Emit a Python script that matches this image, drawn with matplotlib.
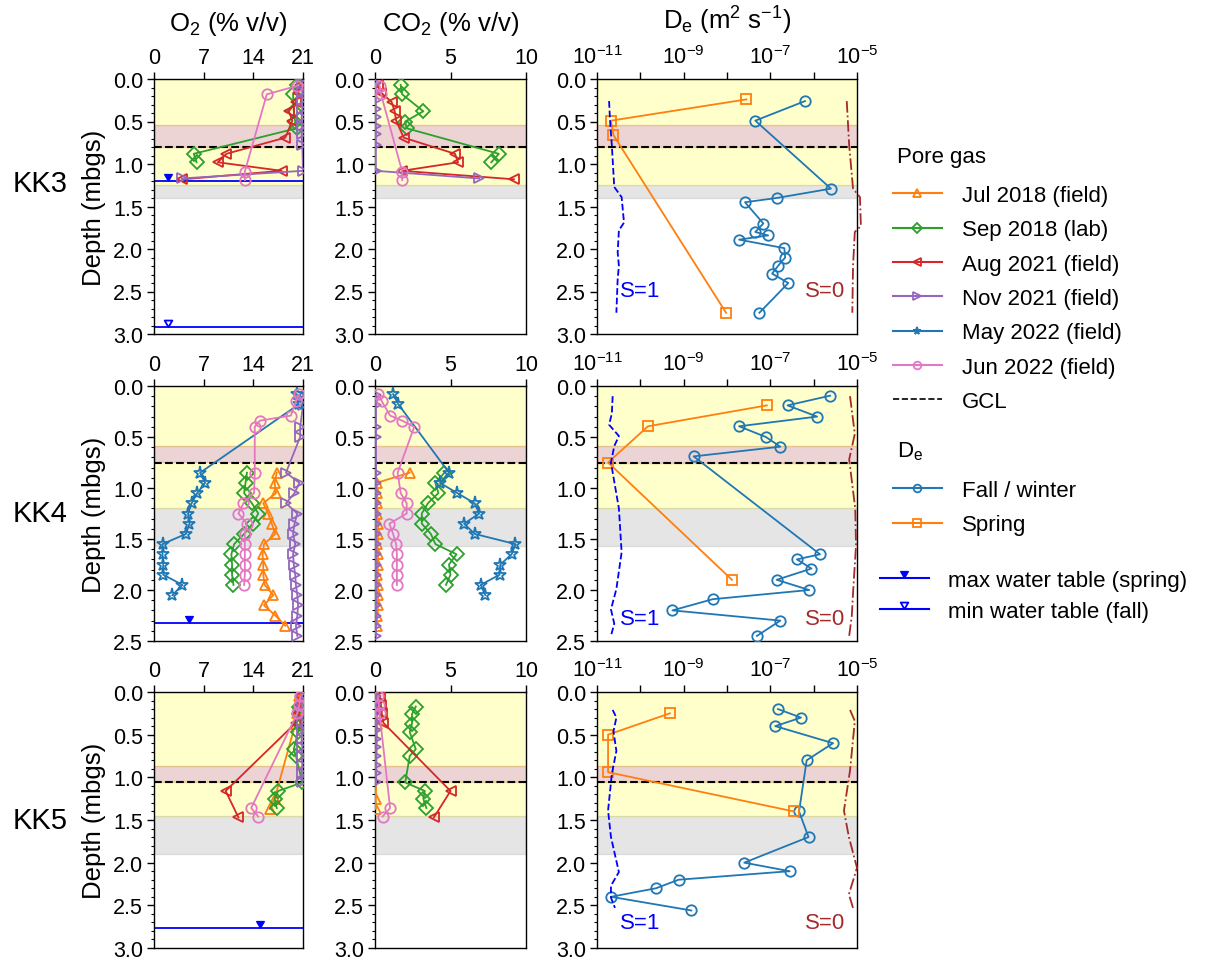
import matplotlib.pyplot as plt
from matplotlib.lines import Line2D
from matplotlib.path import Path
from matplotlib.ticker import FixedLocator, MultipleLocator, NullFormatter

plt.rcParams['font.family'] = ['Liberation Sans', 'DejaVu Sans']
plt.rcParams['mathtext.fontset'] = 'custom'
plt.rcParams['mathtext.rm'] = 'Liberation Sans'
plt.rcParams['mathtext.it'] = 'Liberation Sans:italic'
plt.rcParams['mathtext.bf'] = 'Liberation Sans:bold'

# ---------------- pore gas profiles (depth m, O2 %, CO2 %) ----------------
# KK3
kk3_sep18_depth = [0.07, 0.18, 0.38, 0.50, 0.58, 0.88, 0.98]
kk3_sep18_o2 = [20.2, 19.6, 19.7, 19.9, 20.1, 5.6, 6.0]
kk3_sep18_co2 = [1.7, 1.8, 3.2, 2.0, 2.1, 8.2, 7.7]

kk3_aug21_depth = [0.07, 0.16, 0.27, 0.38, 0.49, 0.69, 0.88, 0.98, 1.08, 1.18]
kk3_aug21_o2 = [20.6, 20.3, 20.0, 19.0, 19.5, 18.5, 10.2, 9.0, 18.0, 4.0]
kk3_aug21_co2 = [0.2, 0.4, 1.1, 1.3, 1.4, 1.9, 5.3, 5.5, 1.8, 9.2]

kk3_nov21_depth = [0.05, 0.15, 0.25, 0.35, 0.45, 0.55, 0.65, 0.78, 1.08, 1.17]
kk3_nov21_o2 = [20.8, 20.9, 20.8, 20.9, 20.8, 20.9, 20.8, 20.9, 21.0, 3.9]
kk3_nov21_co2 = [0.05, 0.05, 0.05, 0.05, 0.05, 0.05, 0.05, 0.05, 0.05, 6.9]

kk3_jun22_depth = [0.08, 0.18, 1.09, 1.19]
kk3_jun22_o2 = [20.2, 15.9, 12.8, 12.8]
kk3_jun22_co2 = [0.3, 0.4, 1.8, 1.8]

# KK4
kk4_jul18_depth = [0.85, 0.95, 1.05, 1.15, 1.25, 1.35, 1.45, 1.55, 1.65, 1.75,
                   1.85, 1.95, 2.05, 2.15, 2.25, 2.35]
kk4_jul18_o2 = [17.3, 17.0, 17.2, 15.4, 16.1, 16.6, 17.1, 15.5, 15.3, 15.4,
                15.4, 15.6, 16.8, 15.5, 17.1, 18.5]
kk4_jul18_co2 = [2.3, 0.1, 0.15, 0.15, 0.15, 0.2, 0.2, 0.15, 0.2, 0.2,
                 0.15, 0.2, 0.2, 0.2, 0.15, 0.1]

kk4_sep18_depth = [0.85, 0.95, 1.05, 1.15, 1.25, 1.35, 1.45, 1.55, 1.65, 1.75, 1.85, 1.95]
kk4_sep18_o2 = [13.1, 12.9, 12.7, 13.8, 14.7, 13.9, 12.7, 11.3, 10.9, 11.0, 11.0, 11.2]
kk4_sep18_co2 = [4.6, 4.0, 4.2, 3.5, 3.1, 3.1, 3.7, 4.0, 5.4, 4.9, 5.0, 4.7]

kk4_nov21_depth = [0.09, 0.19, 0.40, 0.50, 0.85, 0.95, 1.05, 1.15, 1.25, 1.35, 1.45,
                   1.55, 1.65, 1.75, 1.85, 1.95, 2.05, 2.15, 2.25, 2.35, 2.45]
kk4_nov21_o2 = [20.6, 21.0, 20.6, 20.6, 18.6, 20.5, 19.8, 18.6, 20.2, 19.8, 19.6,
                19.9, 19.6, 19.7, 19.9, 20.0, 20.2, 20.3, 20.2, 20.0, 20.2]
kk4_nov21_co2 = [0.05, 0.05, 0.05, 0.05, 0.05, 0.05, 0.05, 0.05, 0.05, 0.05, 0.05,
                 0.05, 0.05, 0.05, 0.05, 0.05, 0.05, 0.05, 0.05, 0.05, 0.05]

kk4_may22_depth = [0.08, 0.18, 0.85, 0.95, 1.05, 1.15, 1.25, 1.35, 1.45, 1.55,
                   1.65, 1.75, 1.85, 1.95, 2.05]
kk4_may22_o2 = [20.1, 20.4, 6.5, 7.2, 6.1, 5.3, 4.8, 5.0, 4.5, 1.2, 1.2, 1.3, 1.3, 4.0, 2.6]
kk4_may22_co2 = [1.2, 1.55, 4.9, 4.3, 5.45, 6.6, 6.9, 5.9, 6.6, 9.3, 9.05, 8.3, 8.25, 7.0, 7.3]

kk4_jun22_depth = [0.08, 0.15, 0.29, 0.34, 0.40, 0.85, 1.05, 1.15, 1.25, 1.35,
                   1.45, 1.55, 1.65, 1.75, 1.85, 1.95]
kk4_jun22_o2 = [20.5, 20.0, 19.3, 14.9, 14.2, 14.2, 14.1, 12.6, 11.9, 13.1,
                12.8, 12.8, 12.8, 12.8, 12.8, 12.7]
kk4_jun22_co2 = [0.2, 0.45, 1.0, 1.8, 2.6, 1.5, 1.7, 2.1, 2.1, 0.95,
                 1.2, 1.4, 1.45, 1.45, 1.45, 1.45]

# KK5
kk5_jul18_depth = [0.05, 0.15, 0.25, 0.38, 1.25, 1.37]
kk5_jul18_o2 = [20.4, 20.3, 20.1, 19.9, 17.0, 16.3]
kk5_jul18_co2 = [0.1, 0.1, 0.15, 0.15, 0.05, 0.05]

kk5_sep18_depth = [0.17, 0.26, 0.37, 0.47, 0.67, 0.75, 1.06, 1.16, 1.25, 1.36]
kk5_sep18_o2 = [20.5, 20.4, 20.6, 20.3, 19.7, 20.0, 20.9, 17.5, 17.0, 17.3]
kk5_sep18_co2 = [2.7, 2.45, 2.45, 2.3, 2.7, 2.3, 2.0, 3.3, 3.2, 3.4]

kk5_aug21_depth = [0.05, 0.15, 0.25, 0.36, 1.16, 1.47]
kk5_aug21_o2 = [20.6, 20.6, 20.4, 20.0, 10.1, 11.9]
kk5_aug21_co2 = [0.3, 0.4, 0.45, 0.55, 5.0, 3.9]

kk5_nov21_depth = [0.05, 0.15, 0.25, 0.35, 0.45, 0.55, 0.65, 0.75, 0.85, 0.95, 1.05]
kk5_nov21_o2 = [20.9, 20.8, 20.9, 20.8, 20.9, 20.8, 20.9, 20.8, 20.9, 20.8, 20.9]
kk5_nov21_co2 = [0.05, 0.05, 0.05, 0.05, 0.05, 0.05, 0.05, 0.05, 0.05, 0.05, 0.05]

kk5_jun22_depth = [0.05, 0.15, 0.25, 1.36, 1.46]
kk5_jun22_o2 = [20.6, 20.5, 20.2, 13.7, 14.7]
kk5_jun22_co2 = [0.2, 0.25, 0.3, 1.0, 0.5]

# ---------------- effective diffusivity (depth m, De m2/s) ----------------
kk3_fall_depth = [0.26, 0.49, 1.29, 1.40, 1.45, 1.70, 1.80, 1.84, 1.89, 1.99,
                  2.10, 2.20, 2.29, 2.40, 2.75]
kk3_fall_de = [6.3e-7, 4.5e-8, 2.5e-6, 1.4e-7, 2.6e-8, 6.9e-8, 4.5e-8, 8.9e-8, 1.9e-8, 2.1e-7,
               2.2e-7, 1.5e-7, 1.1e-7, 2.6e-7, 5.6e-8]
kk3_spring_depth = [0.24, 0.49, 0.66, 2.75]
kk3_spring_de = [2.8e-8, 2.1e-11, 2.4e-11, 9.5e-9]
kk3_s1_depth = [0.26, 0.49, 0.78, 1.27, 1.39, 1.69, 1.78, 2.04, 2.20, 2.35, 2.75]
kk3_s1_de = [1.9e-11, 2.0e-11, 2.2e-11, 2.5e-11, 3.7e-11, 4.2e-11, 3.2e-11, 3.0e-11,
             3.2e-11, 3.0e-11, 2.8e-11]
kk3_s0_depth = [0.26, 0.78, 1.29, 1.39, 1.73, 1.80, 2.20, 2.75]
kk3_s0_de = [5.8e-6, 6.6e-6, 8.1e-6, 1.17e-5, 1.23e-5, 8.9e-6, 8.1e-6, 7.8e-6]

kk4_fall_depth = [0.095, 0.19, 0.30, 0.395, 0.50, 0.595, 0.69, 1.65, 1.70, 1.79,
                  1.90, 2.00, 2.09, 2.20, 2.30, 2.45]
kk4_fall_de = [2.4e-6, 2.5e-7, 1.2e-6, 1.9e-8, 7.9e-8, 1.7e-7, 1.7e-9, 1.4e-6, 4.1e-7, 8.9e-7,
               1.4e-7, 7.9e-7, 4.7e-9, 5.5e-10, 1.7e-7, 4.9e-8]
kk4_spring_depth = [0.19, 0.395, 0.75, 1.90]
kk4_spring_de = [8.3e-8, 1.5e-10, 1.8e-11, 1.3e-8]
kk4_s1_depth = [0.10, 0.27, 0.38, 0.49, 0.59, 0.75, 1.20, 1.63, 1.99, 2.19, 2.33, 2.45]
kk4_s1_de = [2.3e-11, 2.2e-11, 1.9e-11, 3.2e-11, 2.5e-11, 2.1e-11, 3.2e-11, 3.7e-11,
             2.8e-11, 2.1e-11, 2.5e-11, 2.1e-11]
kk4_s0_depth = [0.10, 0.47, 0.72, 1.20, 1.56, 2.03, 2.25, 2.45]
kk4_s0_de = [6.9e-6, 8.9e-6, 6.6e-6, 9.1e-6, 9.5e-6, 8.1e-6, 7.6e-6, 6.6e-6]

kk5_fall_depth = [0.20, 0.30, 0.40, 0.60, 0.80, 1.40, 1.70, 2.00, 2.10, 2.20, 2.30, 2.40, 2.56]
kk5_fall_de = [1.5e-7, 5.1e-7, 1.3e-7, 2.8e-6, 6.9e-7, 4.6e-7, 7.6e-7, 2.5e-8, 2.8e-7,
               7.6e-10, 2.3e-10, 2.1e-11, 1.5e-9]
kk5_spring_depth = [0.25, 0.50, 0.94, 1.40]
kk5_spring_de = [4.8e-10, 1.8e-11, 1.8e-11, 3.5e-7]
kk5_s1_depth = [0.21, 0.30, 0.46, 0.69, 0.96, 1.39, 1.70, 2.11, 2.27, 2.41, 2.53]
kk5_s1_de = [2.3e-11, 2.8e-11, 2.4e-11, 2.8e-11, 2.2e-11, 1.8e-11, 2.1e-11, 3.2e-11,
             2.1e-11, 2.1e-11, 2.6e-11]
kk5_s0_depth = [0.21, 0.34, 0.92, 1.39, 1.70, 2.06, 2.37, 2.53]
kk5_s0_de = [6.9e-6, 8.9e-6, 6.9e-6, 5.0e-6, 6.5e-6, 1.0e-5, 6.5e-6, 8.1e-6]

# ---------------- layers and water tables (m below ground) ----------------
site_names = ['KK3', 'KK4', 'KK5']
site_max_depth = [3.0, 2.5, 3.0]
cover_top = [0.54, 0.59, 0.87]       # top of reddish layer above the GCL
gcl_depth = [0.80, 0.75, 1.05]
yellow_bottom = [1.25, 1.20, 1.45]
grey_bottom = [1.40, 1.57, 1.90]
wt_max_depth = [1.20, 2.32, 2.77]
wt_max_x = [2.0, 5.0, 15.0]
wt_min_depth = [2.92, None, None]
wt_min_x = [2.0, None, None]
s_label_depth = [2.49, 2.28, 2.70]

gas_labels = ['Jul 2018 (field)', 'Sep 2018 (lab)', 'Aug 2021 (field)',
              'Nov 2021 (field)', 'May 2022 (field)', 'Jun 2022 (field)']
gas_colors = ['C1', 'C2', 'C3', 'C4', 'C0', 'C6']
gas_markers = ['^', 'D', '<', '>', '*', 'o']

site_gas = [
    {'Sep 2018 (lab)': (kk3_sep18_depth, kk3_sep18_o2, kk3_sep18_co2),
     'Aug 2021 (field)': (kk3_aug21_depth, kk3_aug21_o2, kk3_aug21_co2),
     'Nov 2021 (field)': (kk3_nov21_depth, kk3_nov21_o2, kk3_nov21_co2),
     'Jun 2022 (field)': (kk3_jun22_depth, kk3_jun22_o2, kk3_jun22_co2)},
    {'Jul 2018 (field)': (kk4_jul18_depth, kk4_jul18_o2, kk4_jul18_co2),
     'Sep 2018 (lab)': (kk4_sep18_depth, kk4_sep18_o2, kk4_sep18_co2),
     'Nov 2021 (field)': (kk4_nov21_depth, kk4_nov21_o2, kk4_nov21_co2),
     'May 2022 (field)': (kk4_may22_depth, kk4_may22_o2, kk4_may22_co2),
     'Jun 2022 (field)': (kk4_jun22_depth, kk4_jun22_o2, kk4_jun22_co2)},
    {'Jul 2018 (field)': (kk5_jul18_depth, kk5_jul18_o2, kk5_jul18_co2),
     'Sep 2018 (lab)': (kk5_sep18_depth, kk5_sep18_o2, kk5_sep18_co2),
     'Aug 2021 (field)': (kk5_aug21_depth, kk5_aug21_o2, kk5_aug21_co2),
     'Nov 2021 (field)': (kk5_nov21_depth, kk5_nov21_o2, kk5_nov21_co2),
     'Jun 2022 (field)': (kk5_jun22_depth, kk5_jun22_o2, kk5_jun22_co2)},
]
site_de = [
    (kk3_fall_depth, kk3_fall_de, kk3_spring_depth, kk3_spring_de,
     kk3_s1_depth, kk3_s1_de, kk3_s0_depth, kk3_s0_de),
    (kk4_fall_depth, kk4_fall_de, kk4_spring_depth, kk4_spring_de,
     kk4_s1_depth, kk4_s1_de, kk4_s0_depth, kk4_s0_de),
    (kk5_fall_depth, kk5_fall_de, kk5_spring_depth, kk5_spring_de,
     kk5_s1_depth, kk5_s1_de, kk5_s0_depth, kk5_s0_de),
]

# water table symbol: triangle sitting on top of the line
wt_marker = Path([(-0.55, 1.0), (0.55, 1.0), (0.0, 0.05), (-0.55, 1.0)],
                 [Path.MOVETO, Path.LINETO, Path.LINETO, Path.CLOSEPOLY])

W, H = 1209, 962
col_px = [(154, 303), (375, 526), (597, 857)]
row_px = [(80, 335), (387, 642), (693, 949)]
TICK_FS = 15.5
LABEL_FS = 18.5
LEG_FS = 16

fig = plt.figure(figsize=(W / 100, H / 100), dpi=100)


def style_axes(ax, ymax):
    ax.set_ylim(ymax, 0)
    ax.yaxis.set_major_locator(MultipleLocator(0.5))
    ax.yaxis.set_minor_locator(MultipleLocator(0.1))
    ax.yaxis.set_major_formatter(plt.FormatStrFormatter('%.1f'))
    ax.xaxis.tick_top()
    ax.tick_params(which='major', length=5, width=1, labelsize=TICK_FS, pad=3)
    ax.tick_params(which='minor', length=2.5, width=0.8)
    for s in ax.spines.values():
        s.set_linewidth(1.0)


def draw_layers(ax, i):
    ax.axhspan(0, cover_top[i], color='yellow', alpha=0.2, zorder=0)
    ax.axhspan(cover_top[i], gcl_depth[i], color='brown', alpha=0.2, zorder=0)
    ax.axhspan(gcl_depth[i], yellow_bottom[i], color='yellow', alpha=0.2, zorder=0)
    ax.axhspan(yellow_bottom[i], grey_bottom[i], color='grey', alpha=0.2, zorder=0)
    ax.axhline(gcl_depth[i], color='k', ls='--', lw=1.5, zorder=1.5)


for i, site in enumerate(site_names):
    r0, r1 = row_px[i]
    axes = []
    for c0, c1 in col_px:
        axes.append(fig.add_axes([c0 / W, 1 - r1 / H, (c1 - c0) / W, (r1 - r0) / H]))
    ax_o2, ax_co2, ax_de = axes

    for ax in axes:
        draw_layers(ax, i)

    # pore gas profiles
    for lab, col, mk in zip(gas_labels, gas_colors, gas_markers):
        if lab not in site_gas[i]:
            continue
        d, o2, co2 = site_gas[i][lab]
        ms = 9.5 if mk == '*' else 7.5
        kw = dict(color=col, marker=mk, mfc='none', ms=ms, mew=1.3, lw=1.3, zorder=3)
        ax_o2.plot(o2, d, **kw)
        ax_co2.plot(co2, d, **kw)

    # water tables
    ax_o2.axhline(wt_max_depth[i], color='b', lw=1.3, zorder=2)
    ax_o2.plot([wt_max_x[i]], [wt_max_depth[i]], ls='none', marker=wt_marker,
               ms=10, color='b', mfc='b', zorder=4)
    if wt_min_depth[i] is not None:
        ax_o2.axhline(wt_min_depth[i], color='b', lw=1.3, zorder=2)
        ax_o2.plot([wt_min_x[i]], [wt_min_depth[i]], ls='none', marker=wt_marker,
                   ms=10, color='b', mfc='none', mew=1.3, zorder=4)

    ax_o2.set_xlim(0, 21)
    ax_o2.set_xticks([0, 7, 14, 21])
    ax_co2.set_xlim(0, 10)
    ax_co2.set_xticks([0, 5, 10])

    # effective diffusivity
    fd, fde, sd, sde, s1d, s1de, s0d, s0de = site_de[i]
    ax_de.set_xscale('log')
    ax_de.plot(fde, fd, color='C0', marker='o', mfc='none', ms=7.5, mew=1.3, lw=1.3, zorder=3)
    ax_de.plot(sde, sd, color='C1', marker='s', mfc='none', ms=7.5, mew=1.3, lw=1.3, zorder=3)
    ax_de.plot(s1de, s1d, color='b', ls='--', lw=1.3, zorder=3)
    ax_de.plot(s0de, s0d, color='brown', ls='-.', lw=1.3, zorder=3, clip_on=False)
    ax_de.text(3.4e-11, s_label_depth[i], 'S=1', color='b', fontsize=16,
               ha='left', va='center')
    ax_de.text(5.3e-6, s_label_depth[i], 'S=0', color='brown', fontsize=16,
               ha='right', va='center')
    ax_de.set_xlim(1e-11, 1e-5)
    ax_de.xaxis.set_major_locator(FixedLocator([1e-11, 1e-9, 1e-7, 1e-5]))
    ax_de.xaxis.set_minor_locator(FixedLocator([1e-10, 1e-8, 1e-6]))
    ax_de.xaxis.set_minor_formatter(NullFormatter())

    for ax in axes:
        style_axes(ax, site_max_depth[i])
    ax_de.tick_params(axis='x', which='minor', length=5, width=1)

    ax_o2.set_ylabel('Depth (mbgs)', fontsize=LABEL_FS, labelpad=5)
    fig.text(40 / W, 1 - (184 if i == 0 else (r0 + r1) / 2) / H, site,
             fontsize=21, ha='center', va='center')

    if i == 0:
        titles = ['O$_2$ (% v/v)', 'CO$_2$ (% v/v)',
                  'D$_\\mathrm{e}$ (m$^2$ s$^{-1}$)']
        for ax, t in zip(axes, titles):
            ax.xaxis.set_label_position('top')
            ax.set_xlabel(t, fontsize=LABEL_FS, labelpad=12)

# legends (headings drawn as separate text for a wider gap above the entries)
leg_kw = dict(loc='upper left', frameon=False, fontsize=LEG_FS,
              handlelength=2.2, handletextpad=0.9, labelspacing=0.6,
              borderpad=0, borderaxespad=0)

gas_handles = [Line2D([], [], color=c, marker=m, mfc='none', ms=5.5, mew=1.3, lw=1.5)
               for c, m in zip(gas_colors, gas_markers)]
gas_handles.append(Line2D([], [], color='k', ls='--', lw=1.2))
fig.text(897 / W, 1 - 157 / H, 'Pore gas', fontsize=LEG_FS, ha='left', va='center')
fig.legend(gas_handles, gas_labels + ['GCL'],
           bbox_to_anchor=(893 / W, 1 - 186 / H), **leg_kw)

de_handles = [Line2D([], [], color='C0', marker='o', mfc='none', ms=5.5, mew=1.3, lw=1.5),
              Line2D([], [], color='C1', marker='s', mfc='none', ms=5.5, mew=1.3, lw=1.5)]
fig.text(897 / W, 1 - 452 / H, 'D$_\\mathrm{e}$', fontsize=LEG_FS, ha='left', va='center')
fig.legend(de_handles, ['Fall / winter', 'Spring'],
           bbox_to_anchor=(893 / W, 1 - 481 / H), **leg_kw)

wt_handles = [Line2D([], [], color='b', lw=1.5, marker=wt_marker, ms=10, mfc='b'),
              Line2D([], [], color='b', lw=1.5, marker=wt_marker, ms=10, mfc='none', mew=1.3)]
fig.legend(wt_handles, ['max water table (spring)', 'min water table (fall)'],
           loc='upper left', bbox_to_anchor=(880 / W, 1 - 571 / H),
           frameon=False, fontsize=LEG_FS, handlelength=2.2, handletextpad=0.85,
           labelspacing=0.45, borderpad=0, borderaxespad=0)

fig.savefig('out.png', dpi=100)
